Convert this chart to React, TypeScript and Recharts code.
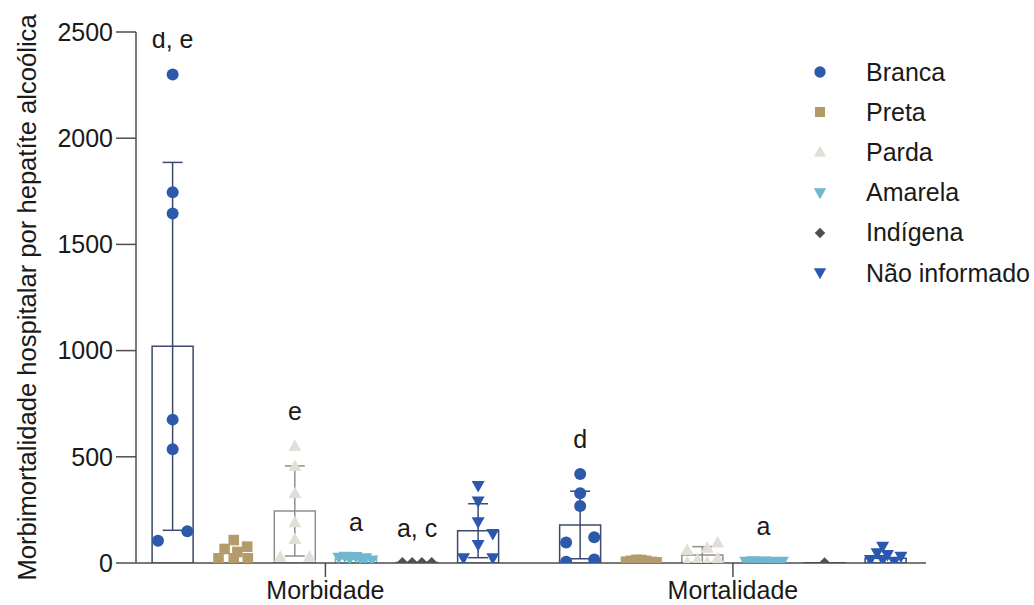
import React from 'react';
import { ComposedChart, Bar, Cell, ErrorBar, Scatter, XAxis, YAxis, Legend, Label } from 'recharts';

const FONT = '"Liberation Sans", Arial, Helvetica, sans-serif';
const INK = '#1a1a1a';
const AXIS = '#4d4d4d';

const GROUPS = ['Morbidade', 'Mortalidade'];
const GROUP_START = [0, 6.67];
const RACES = ['Branca', 'Preta', 'Parda', 'Amarela', 'Indígena', 'Não informado'];
const RACE_COLORS = ['#2c59a9', '#b49b6c', '#e2dfd7', '#72b5cf', '#4c5156', '#2b57ae'];
const RACE_MARKERS = ['circle', 'square', 'triangle', 'triangleDown', 'diamond', 'triangleDown'];
const BAR_STROKES = ['#3c4a6d', '#ffffff', '#8e8e8e', '#72b5cf', '#4c5156', '#3c4a6d'];
const ERR_TONE = ['dark', 'none', 'grey', 'none', 'none', 'dark'];

// individual values, one list per race
const MORB_VALUES = [
  [2300, 1745, 1645, 675, 535, 150, 105],
  [108, 77, 66, 52, 22, 22, 22],
  [551, 457, 328, 192, 113, 30, 30],
  [25, 30, 20, 28, 15, 22, 12],
  [2, 2, 2, 2],
  [362, 289, 192, 137, 85, 22, 22],
];
const MORB_JITTER = [
  [0, 0, 0, 0, 0, 0.24, -0.24],
  [0, 0.22, -0.15, 0.06, -0.25, 0, 0.23],
  [0, 0, 0, 0, 0, -0.24, 0.24],
  [-0.28, -0.18, -0.1, 0, 0.08, 0.16, 0.26],
  [-0.24, -0.08, 0.08, 0.24],
  [0, 0, 0, 0.24, 0, -0.24, 0.24],
];
const MORT_VALUES = [
  [419, 328, 268, 121, 96, 17, 6],
  [6, 10, 15, 14, 10, 5, 3],
  [96, 72, 61, 22, 17, 4, 4],
  [6, 8, 6, 7, 6, 5, 6],
  [1],
  [77, 46, 38, 30, 14, 6, 14],
];
const MORT_JITTER = [
  [0, 0, 0, 0.23, -0.23, 0.23, -0.23],
  [-0.25, -0.17, -0.08, 0, 0.08, 0.17, 0.25],
  [0.25, 0.08, -0.25, 0.25, -0.08, -0.25, 0.08],
  [-0.29, -0.18, -0.08, 0.02, 0.12, 0.22, 0.31],
  [0],
  [-0.05, -0.14, 0.03, 0.25, -0.25, 0.14, -0.05],
];

const MORB_MEAN = [1020, 47, 245, 20, 2, 152];
const MORB_SD = [866, 0, 212, 0, 0, 127];
const MORT_MEAN = [179, 9, 38, 6, 1, 22];
const MORT_SD = [159, 0, 39, 0, 0, 0];

const MORB_LETTERS = ['d, e', '', 'e', 'a', 'a, c', ''];
const MORT_LETTERS = ['d', '', '', 'a', '', ''];

const Y_TICKS = [0, 500, 1000, 1500, 2000, 2500];

const VALUES = [MORB_VALUES, MORT_VALUES];
const JITTER = [MORB_JITTER, MORT_JITTER];
const MEANS = [MORB_MEAN, MORT_MEAN];
const SDS = [MORB_SD, MORT_SD];
const LETTERS = [MORB_LETTERS, MORT_LETTERS];

const barRows = GROUPS.flatMap((g, gi) =>
  RACES.map((r, ri) => ({
    x: GROUP_START[gi] + ri,
    mean: MEANS[gi][ri],
    sdDark: ERR_TONE[ri] === 'dark' ? SDS[gi][ri] : 0,
    sdGrey: ERR_TONE[ri] === 'grey' ? SDS[gi][ri] : 0,
    race: ri,
  }))
);

const pointsOf = (ri: number) =>
  GROUPS.flatMap((g, gi) =>
    VALUES[gi][ri].map((v, k) => ({ x: GROUP_START[gi] + ri + JITTER[gi][ri][k], value: v }))
  );

const letterRows = GROUPS.flatMap((g, gi) =>
  RACES.map((r, ri) => ({
    x: GROUP_START[gi] + ri,
    value: Math.max(...VALUES[gi][ri]),
    letters: LETTERS[gi][ri],
  })).filter((d) => d.letters !== '')
);

const Marker = ({ cx, cy, kind, color, s = 1 }: any) => {
  if (cx == null || cy == null) return null;
  if (kind === 'circle') return <circle cx={cx} cy={cy} r={6 * s} fill={color} />;
  if (kind === 'square')
    return <rect x={cx - 5.3 * s} y={cy - 5.3 * s} width={10.6 * s} height={10.6 * s} fill={color} />;
  if (kind === 'triangle')
    return (
      <polygon
        points={`${cx},${cy - 6.5 * s} ${cx + 6.5 * s},${cy + 5 * s} ${cx - 6.5 * s},${cy + 5 * s}`}
        fill={color}
      />
    );
  if (kind === 'triangleDown')
    return (
      <polygon
        points={`${cx - 6.5 * s},${cy - 5 * s} ${cx + 6.5 * s},${cy - 5 * s} ${cx},${cy + 6.5 * s}`}
        fill={color}
      />
    );
  return (
    <polygon
      points={`${cx},${cy - 5.5 * s} ${cx + 5.5 * s},${cy} ${cx},${cy + 5.5 * s} ${cx - 5.5 * s},${cy}`}
      fill={color}
    />
  );
};

const LegendBox = () => (
  <div style={{ fontFamily: FONT, fontSize: 25, color: INK }}>
    {RACES.map((r, i) => (
      <div key={r} style={{ display: 'flex', alignItems: 'center', height: 40.2 }}>
        <svg width={24} height={24}>
          <Marker cx={12} cy={12} kind={RACE_MARKERS[i]} color={RACE_COLORS[i]} s={0.95} />
        </svg>
        <span style={{ marginLeft: 34, whiteSpace: 'nowrap' }}>{r}</span>
      </div>
    ))}
  </div>
);

const YTitle = ({ viewBox }: any) => {
  const x = viewBox.x + 27;
  const y = viewBox.y + viewBox.height / 2;
  return (
    <text
      x={x}
      y={y}
      transform={`rotate(-90, ${x}, ${y})`}
      textAnchor="middle"
      dominantBaseline="central"
      fontSize={25.6}
      fill={INK}
      fontFamily={FONT}
    >
      Morbimortalidade hospitalar por hepatíte alcoólica
    </text>
  );
};

const DOMAIN = [-0.6, 12.33];

export default function App() {
  return (
    <div style={{ fontFamily: FONT, width: 1034, height: 605 }}>
      <style>{'body { margin: 0; }'}</style>
      <ComposedChart
        width={1034}
        height={605}
        data={barRows}
        margin={{ top: 32, right: 108, bottom: 0, left: 0 }}
        style={{ fontFamily: FONT }}
      >
        <XAxis
          type="number"
          dataKey="x"
          domain={DOMAIN}
          ticks={GROUP_START.map((s) => s + 2.5)}
          tickFormatter={(v) => GROUPS[GROUP_START.findIndex((s) => Math.abs(s + 2.5 - v) < 0.01)]}
          height={42}
          tickSize={14}
          tickMargin={4}
          allowDataOverflow
          stroke={AXIS}
          strokeWidth={1.5}
          tick={{ fill: INK, fontSize: 25 }}
        />
        <XAxis xAxisId="pts" type="number" dataKey="x" domain={DOMAIN} allowDataOverflow hide />
        <YAxis
          type="number"
          domain={[0, 2500]}
          ticks={Y_TICKS}
          interval={0}
          width={136}
          tickSize={20}
          tickMargin={3}
          allowDataOverflow
          stroke={AXIS}
          strokeWidth={1.5}
          tick={{ fill: INK, fontSize: 25 }}
        >
          <Label content={<YTitle />} />
        </YAxis>
        <Bar dataKey="mean" barSize={41} fill="none" strokeWidth={1.5} isAnimationActive={false}>
          {barRows.map((row, i) => (
            <Cell key={i} fill="none" stroke={BAR_STROKES[row.race]} />
          ))}
          <ErrorBar dataKey="sdDark" direction="y" width={10} stroke="#3c4a6d" strokeWidth={1.5} />
          <ErrorBar dataKey="sdGrey" direction="y" width={10} stroke="#8e8e8e" strokeWidth={1.5} />
        </Bar>
        {RACES.map((r, ri) => (
          <Scatter
            key={r}
            name={r}
            xAxisId="pts"
            data={pointsOf(ri)}
            dataKey="value"
            isAnimationActive={false}
            shape={(p: any) => (
              <Marker cx={p.cx} cy={p.cy} kind={RACE_MARKERS[ri]} color={RACE_COLORS[ri]} />
            )}
          />
        ))}
        <Scatter
          xAxisId="pts"
          data={letterRows}
          dataKey="value"
          legendType="none"
          isAnimationActive={false}
          shape={(p: any) => (
            <text
              x={p.cx}
              y={p.cy - 35}
              textAnchor="middle"
              dominantBaseline="central"
              fontSize={25}
              fill={INK}
              fontFamily={FONT}
            >
              {p.payload.letters}
            </text>
          )}
        />
        <Legend
          layout="horizontal"
          verticalAlign="middle"
          align="center"
          content={<LegendBox />}
          wrapperStyle={{ left: 808, top: 52, width: 'auto', height: 'auto' }}
        />
      </ComposedChart>
    </div>
  );
}
